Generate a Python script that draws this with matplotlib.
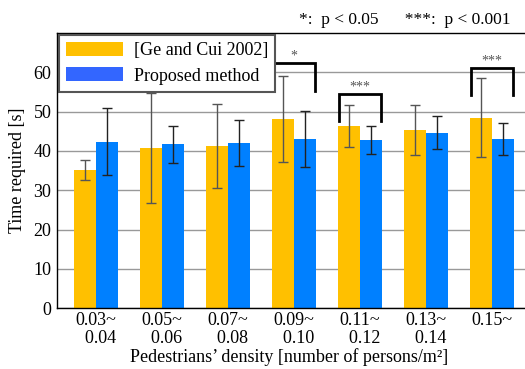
import matplotlib
matplotlib.use("Agg")
import matplotlib.pyplot as plt
import numpy as np
from matplotlib.patches import Patch

plt.rcParams['font.family'] = ['Liberation Serif', 'DejaVu Serif']

categories = ["0.03~\n  0.04", "0.05~\n  0.06", "0.07~\n  0.08", "0.09~\n  0.10",
              "0.11~\n  0.12", "0.13~\n  0.14", "0.15~"]
ge_mean = [35.2, 40.8, 41.3, 48.1, 46.3, 45.4, 48.5]
ge_err = [2.5, 14.0, 10.6, 11.0, 5.3, 6.3, 10.0]
prop_mean = [42.4, 41.7, 42.0, 43.0, 42.8, 44.7, 43.0]
prop_err = [8.6, 4.7, 5.8, 7.1, 3.5, 4.1, 4.1]
# significance brackets: (group index, bracket top, leg bottom, label)
sig_groups = [3, 4, 6]
sig_tops = [62.3, 54.5, 61.1]
sig_bottoms = [55.3, 47.7, 54.2]
sig_labels = ["*", "***", "***"]

FS = 13

fig = plt.figure(figsize=(5.25, 3.69), dpi=100)
ax = fig.add_axes([57/525, 1 - 308.3/369, 1 - 57/525, (308.3 - 33)/369])

x = np.arange(len(categories))
w = 1/3
ax.bar(x - w/2, ge_mean, w, color='#FFC000', zorder=2)
ax.bar(x + w/2, prop_mean, w, color='#0080FF', zorder=2)
ax.errorbar(x - w/2, ge_mean, yerr=ge_err, fmt='none', ecolor='#555555', elinewidth=1,
            capsize=3.5, capthick=1, zorder=3)
ax.errorbar(x + w/2, prop_mean, yerr=prop_err, fmt='none', ecolor='#222222', elinewidth=1,
            capsize=3.5, capthick=1, zorder=3)

for g, top, bot, lab in zip(sig_groups, sig_tops, sig_bottoms, sig_labels):
    xl, xr = g - 0.32, g + 0.32
    ax.plot([xl, xl, xr, xr], [bot, top, top, bot], color='black', lw=2, zorder=4,
            solid_joinstyle='miter', clip_on=False)
    ax.text(g, top + 0.1, lab, ha='center', va='bottom', fontsize=10, color='#555555')

ax.set_xlim(-39/66, 6.5)
ax.set_ylim(0, 70)
ax.set_yticks([0, 10, 20, 30, 40, 50, 60])
ax.tick_params(axis='y', length=0, labelsize=FS, pad=4)
ax.set_xticks(x)
ax.set_xticklabels(categories, fontsize=FS, linespacing=1.12)
ax.tick_params(axis='x', length=0, pad=2.5)
ax.yaxis.grid(True, color='#999999', lw=1, zorder=0)
ax.set_axisbelow(True)
for s in ['left', 'bottom', 'top']:
    ax.spines[s].set_color('black')
    ax.spines[s].set_linewidth(1)
ax.spines['right'].set_visible(False)

ax.set_ylabel("Time required [s]", fontsize=FS, labelpad=5)
fig.text(289/525, 1 - 357/369, "Pedestrians\u2019 density [number of persons/m\u00b2]",
         fontsize=FS, ha='center', va='center')

handles = [Patch(facecolor='#FFC000'), Patch(facecolor='#3366FF')]
leg = ax.legend(handles, ['[Ge and Cui 2002]', 'Proposed method'], loc='upper left',
                bbox_to_anchor=(0.0, 1.0), fontsize=FS, fancybox=False, framealpha=1,
                edgecolor='#555555', handlelength=3.15, handleheight=0.8, borderpad=0.4,
                labelspacing=0.45, handletextpad=0.6, borderaxespad=0.1)
leg.get_frame().set_linewidth(1.5)

fig.text(405/525, 1 - 20/369, "*:  p < 0.05      ***:  p < 0.001", ha='center', va='center',
         fontsize=12.5)

fig.savefig("out.png", dpi=100)
